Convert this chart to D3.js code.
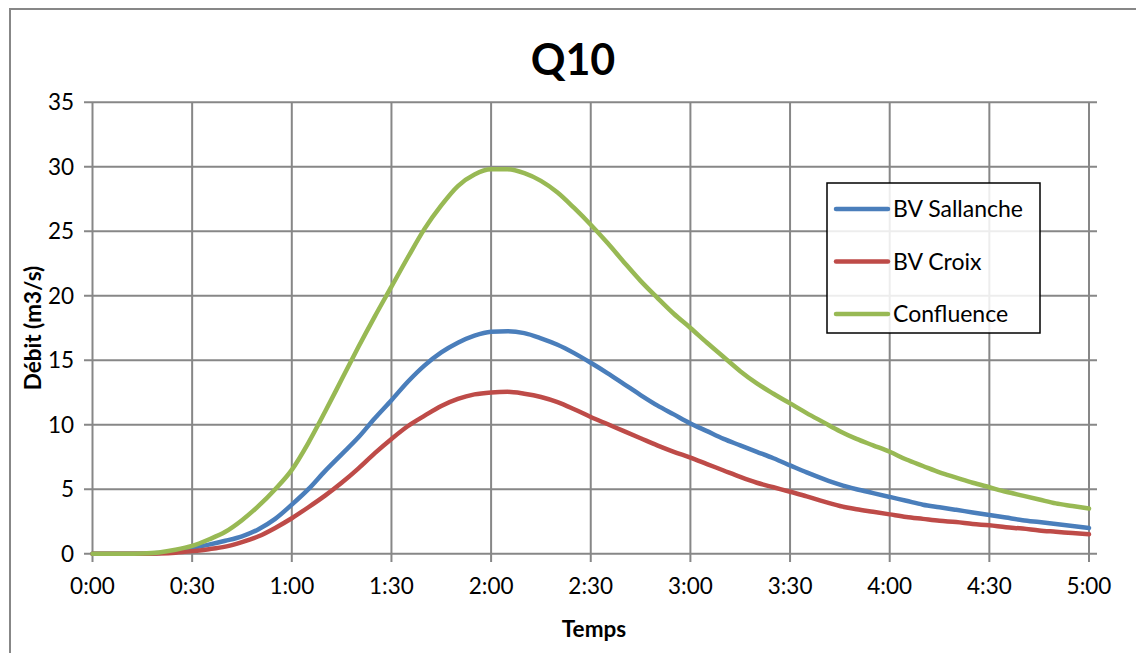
<!DOCTYPE html>
<html><head><meta charset="utf-8">
<script src="https://cdn.jsdelivr.net/npm/d3@7"></script>
<style>body{margin:0;background:#fff}svg{display:block}text{font-family:Lato,"Open Sans",sans-serif}</style>
</head><body><svg id="c" width="1136" height="653"></svg>
<script>
// time in minutes, every 5 min from 0:00 to 5:00
const minutes = d3.range(0, 301, 5);
const sallanche = [0,0,0,0,0.05,0.2,0.45,0.7,1.0,1.35,1.9,2.7,3.8,5.0,6.4,7.7,9.0,10.5,11.9,13.35,14.6,15.6,16.35,16.9,17.2,17.25,17.1,16.7,16.2,15.55,14.8,14.0,13.15,12.3,11.5,10.8,10.1,9.5,8.9,8.4,7.9,7.4,6.85,6.3,5.8,5.35,5.0,4.7,4.4,4.1,3.8,3.6,3.4,3.2,3.0,2.8,2.6,2.45,2.3,2.15,2.0];
const croix = [0,0,0,0,0.02,0.08,0.2,0.35,0.55,0.9,1.35,2.0,2.75,3.6,4.5,5.5,6.6,7.8,8.9,9.9,10.7,11.45,12.0,12.35,12.5,12.55,12.4,12.15,11.75,11.2,10.6,10.05,9.5,8.95,8.4,7.9,7.45,6.95,6.45,5.95,5.5,5.15,4.8,4.45,4.05,3.7,3.45,3.25,3.05,2.85,2.7,2.55,2.45,2.3,2.2,2.05,1.95,1.8,1.7,1.6,1.5];
const confluence = [0,0,0,0.02,0.1,0.3,0.6,1.1,1.7,2.6,3.7,5.0,6.5,8.6,11.0,13.5,16.0,18.4,20.7,23.0,25.2,27.0,28.5,29.4,29.8,29.8,29.5,28.9,28.0,26.8,25.5,24.1,22.6,21.15,19.85,18.6,17.5,16.35,15.25,14.15,13.2,12.4,11.65,10.9,10.2,9.5,8.9,8.4,7.9,7.3,6.8,6.3,5.9,5.5,5.15,4.8,4.5,4.2,3.9,3.7,3.5];
const seriesNames = ["BV Sallanche","BV Croix","Confluence"];
const seriesColors = ["#4A7EBB","#BE4B48","#98B954"];
const xTicks = d3.range(0, 301, 30);
const yTicks = [0,5,10,15,20,25,30,35];
const title = "Q10", xTitle = "Temps", yTitle = "Débit (m3/s)";

const svg = d3.select("#c");
const grid = "#878787";
// outer frame
svg.append("rect").attr("x",10).attr("y",9).attr("width",1140).attr("height",660)
  .attr("fill","none").attr("stroke",grid).attr("stroke-width",2);

const x = d3.scaleLinear().domain([0,300]).range([92.5,1089]);
const y = d3.scaleLinear().domain([0,35]).range([553.7,102.2]);
const fmt = m => Math.floor(m/60) + ":" + String(m%60).padStart(2,"0");

// horizontal gridlines (with ticks extending left)
svg.append("g").selectAll("line").data(yTicks).join("line")
  .attr("x1",84).attr("x2",1097).attr("y1",d=>y(d)).attr("y2",d=>y(d))
  .attr("stroke",grid).attr("stroke-width",2);
// vertical gridlines (with ticks extending below)
svg.append("g").selectAll("line").data(xTicks).join("line")
  .attr("x1",d=>x(d)).attr("x2",d=>x(d)).attr("y1",y(35)).attr("y2",562)
  .attr("stroke",grid).attr("stroke-width",2);

// tick labels
svg.append("g").selectAll("text").data(yTicks).join("text")
  .attr("x",74).attr("y",d=>y(d)).attr("dy","0.36em").attr("text-anchor","end")
  .attr("font-size",22.5).attr("fill","#000").text(d=>d);
svg.append("g").selectAll("text").data(xTicks).join("text")
  .attr("x",d=>x(d)).attr("y",594).attr("text-anchor","middle")
  .attr("font-size",22.5).attr("fill","#000").text(fmt);

// titles
svg.append("text").attr("x",573).attr("y",75).attr("text-anchor","middle")
  .attr("font-size",43).attr("font-weight","bold").text(title);
svg.append("text").attr("x",594).attr("y",637).attr("text-anchor","middle")
  .attr("font-size",22.5).attr("font-weight","bold").text(xTitle);
svg.append("text").attr("transform","translate(41,328) rotate(-90)").attr("text-anchor","middle")
  .attr("font-size",22.5).attr("font-weight","bold").text(yTitle);

// lines
const allSeries = [sallanche, croix, confluence];
const line = d3.line().x((d,i)=>x(minutes[i])).y(d=>y(d)).curve(d3.curveMonotoneX);
allSeries.forEach((s,k)=>{
  svg.append("path").datum(s).attr("d",line).attr("fill","none")
    .attr("stroke",seriesColors[k]).attr("stroke-width",4.5)
    .attr("stroke-linejoin","round").attr("stroke-linecap","round");
});

// legend
const lg = svg.append("g");
lg.append("rect").attr("x",827).attr("y",183).attr("width",213).attr("height",150)
  .attr("fill","#fff").attr("fill-opacity",0.85).attr("stroke","#000").attr("stroke-width",1.5);
seriesNames.forEach((n,k)=>{
  const yy = 209 + k*52.5;
  lg.append("line").attr("x1",836).attr("x2",888).attr("y1",yy).attr("y2",yy)
    .attr("stroke",seriesColors[k]).attr("stroke-width",4.5).attr("stroke-linecap","round");
  lg.append("text").attr("x",893).attr("y",yy).attr("dy","0.36em")
    .attr("font-size",23).text(n);
});
</script></body></html>
